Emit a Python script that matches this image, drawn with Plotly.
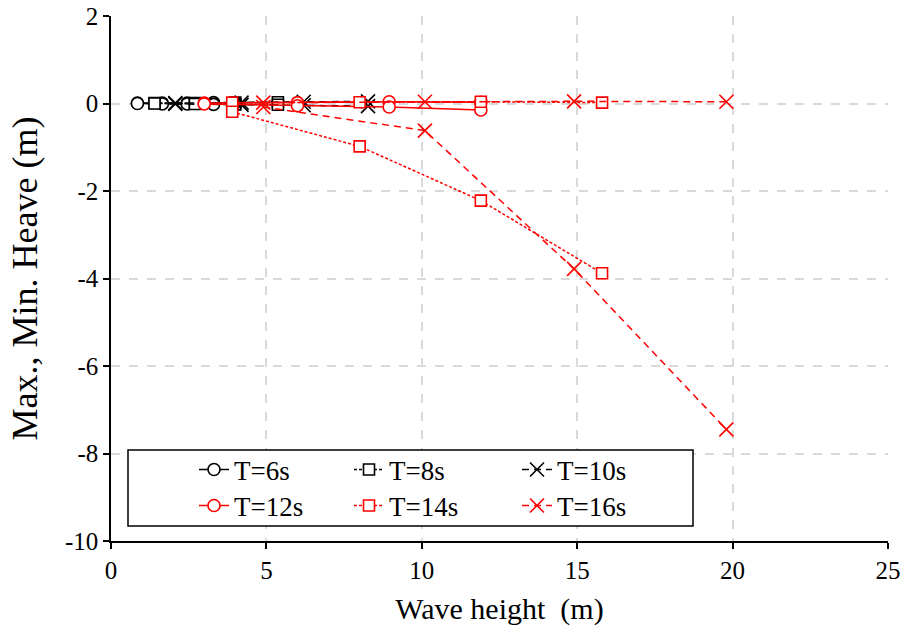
import plotly.graph_objects as go

# ---- data ----
periods = ["T=6s", "T=8s", "T=10s", "T=12s", "T=14s", "T=16s"]

h_T6 = [0.85, 1.65, 2.45, 3.30]
max_T6 = [0.01, 0.01, 0.01, 0.02]
min_T6 = [0.00, -0.01, -0.01, -0.02]

h_T8 = [1.40, 2.70, 4.00, 5.37]
max_T8 = [0.01, 0.01, 0.02, 0.03]
min_T8 = [0.00, -0.01, -0.02, -0.03]

h_T10 = [2.07, 4.20, 6.20, 8.27]
max_T10 = [0.01, 0.02, 0.04, 0.05]
min_T10 = [-0.01, -0.03, -0.04, -0.06]

h_T12 = [3.00, 6.00, 8.95, 11.90]
max_T12 = [0.01, 0.02, 0.04, 0.03]
min_T12 = [-0.01, -0.05, -0.08, -0.15]

h_T14 = [3.90, 8.00, 11.90, 15.80]
max_T14 = [0.02, 0.03, 0.04, 0.02]
min_T14 = [-0.19, -0.98, -2.22, -3.88]

h_T16 = [4.90, 10.10, 14.90, 19.80]
max_T16 = [0.02, 0.04, 0.05, 0.04]
min_T16 = [-0.08, -0.62, -3.78, -7.45]

x_ticks = [0, 5, 10, 15, 20, 25]
y_ticks = [-10, -8, -6, -4, -2, 0, 2]
x_grid = [5, 10, 15, 20]
y_grid = [-8, -6, -4, -2, 0]

series = [
    (periods[0], h_T6, max_T6, min_T6, "black", "solid", "circle", "legend", 110),
    (periods[1], h_T8, max_T8, min_T8, "black", "3px,2px", "square", "legend", 123),
    (periods[2], h_T10, max_T10, min_T10, "black", "7px,5px", "x-thin", "legend", 116),
    (periods[3], h_T12, max_T12, min_T12, "red", "solid", "circle", "legend2", 110),
    (periods[4], h_T14, max_T14, min_T14, "red", "3px,2px", "square", "legend2", 123),
    (periods[5], h_T16, max_T16, min_T16, "red", "7px,5px", "x-thin", "legend2", 116),
]

FONT = "Liberation Serif"

fig = go.Figure()
# dummy trace to hold the grid-only overlay axes
fig.add_trace(go.Scatter(x=[0], y=[0], xaxis="x2", yaxis="y2", mode="markers",
                         marker=dict(opacity=0), showlegend=False, hoverinfo="skip"))
for name, h, mx, mn, col, dash, sym, leg, lw in series:
    if sym == "x-thin":
        marker = dict(symbol="x-thin", size=14, color=col, line=dict(color=col, width=1.6))
    else:
        marker = dict(symbol=sym, size=11 if sym == "square" else 12, color="white",
                      line=dict(color=col, width=1.6))
    for i, yv in enumerate([mx, mn]):
        fig.add_trace(go.Scatter(
            x=h, y=yv, mode="lines+markers", name=name, legendgroup=name,
            showlegend=(i == 0), legend=leg, legendwidth=lw,
            line=dict(color=col, width=1.5, dash=dash), marker=marker,
        ))

# white legend box
fig.add_shape(type="rect", xref="paper", yref="paper",
              x0=(128 - 111) / 777, x1=(693 - 111) / 777,
              y0=(541 - 526) / 525, y1=(541 - 450) / 525,
              fillcolor="white", line=dict(color="black", width=1.5), layer="above")

leg_common = dict(orientation="h", xref="paper", yref="paper", xanchor="left", yanchor="middle",
                  bgcolor="rgba(0,0,0,0)", borderwidth=0,
                  font=dict(family=FONT, size=27, color="black"),
                  entrywidthmode="pixels", itemclick=False)

axis_common = dict(showline=True, linecolor="black", linewidth=1.5,
                   ticks="outside", ticklen=6, tickcolor="black", tickwidth=1.5,
                   showgrid=False, zeroline=False, automargin=False,
                   tickfont=dict(family=FONT, size=25, color="black"))
grid_common = dict(showgrid=True, gridcolor="#d9d9d9", gridwidth=1.5, griddash="dash",
                   showline=False, zeroline=False, ticks="", showticklabels=False,
                   automargin=False)

fig.update_layout(
    width=905, height=634,
    margin=dict(l=111, r=17, t=16, b=93),
    paper_bgcolor="white", plot_bgcolor="white",
    font=dict(family=FONT, size=22, color="black"),
    legend=dict(x=(194 - 111) / 777, y=(541 - 470) / 525, **leg_common),
    legend2=dict(x=(194 - 111) / 777, y=(541 - 506) / 525, **leg_common),
    xaxis=dict(range=[0, 25], tickvals=x_ticks, ticktext=[str(v) for v in x_ticks],
               title=dict(text="Wave height  (m)", font=dict(family=FONT, size=30), standoff=15),
               **axis_common),
    yaxis=dict(range=[-10, 2], tickvals=y_ticks, ticktext=[str(v) for v in y_ticks],
               title=dict(text="Max., Min. Heave (m)", font=dict(family=FONT, size=36), standoff=16),
               **axis_common),
    xaxis2=dict(range=[0, 25], overlaying="x", anchor="y2", tickvals=x_grid, **grid_common),
    yaxis2=dict(range=[-10, 2], overlaying="y", anchor="x2", tickvals=y_grid, **grid_common),
)

fig.write_html("out.html")
